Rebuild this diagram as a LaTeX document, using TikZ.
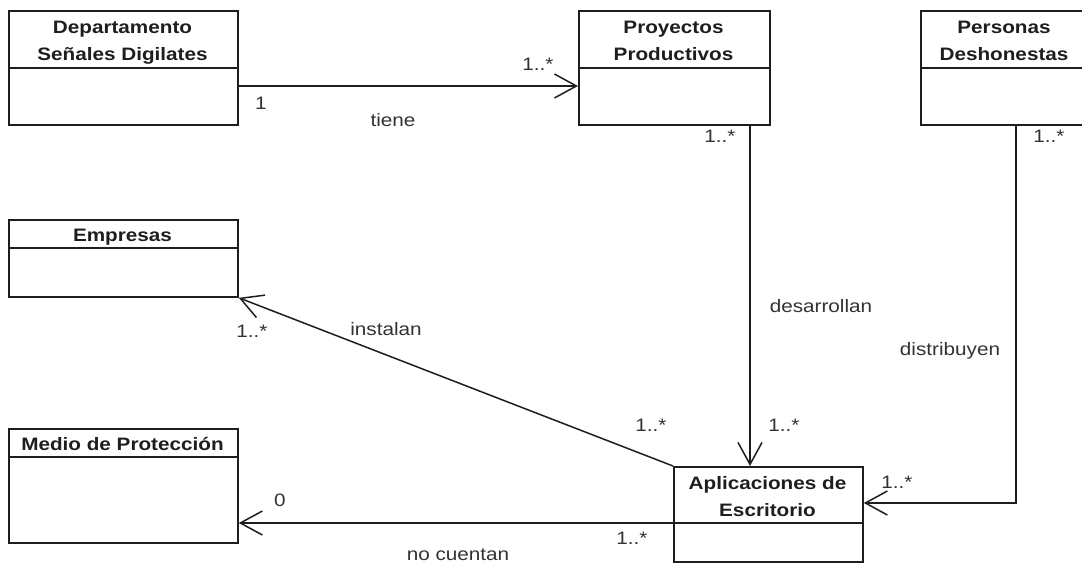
\documentclass[tikz,border=0pt]{standalone}
\usepackage{fontspec}
\setmainfont{Liberation Sans}[FakeStretch=1.15]
\usetikzlibrary{arrows.meta}
\definecolor{ink}{HTML}{1E1E1E}
\definecolor{lbl}{HTML}{333333}
\begin{document}
\begin{tikzpicture}[x=1pt,y=-1pt,
  cls/.style={draw=ink, line width=1.8pt, rectangle, inner sep=0pt, anchor=north west},
  divider/.style={draw=ink, line width=1.5pt},
  title/.style={font=\bfseries\fontsize{18}{27}\selectfont, text=ink, inner sep=0pt, align=center},
  lab/.style={font=\fontsize{18}{22}\selectfont, text=lbl, inner sep=0pt, anchor=base},
  assoc/.style={draw=ink, line width=1.5pt, -{Straight Barb[length=22pt,width=24pt]}},
]
\useasboundingbox (0,0) rectangle (1082,563);
\fill[white] (0,0) rectangle (1082,563);

% class boxes
\node[cls, minimum width=229pt, minimum height=114pt] (dep)  at (8,10) {};
\node[cls, minimum width=191pt, minimum height=114pt] (proy) at (578,10) {};
\node[cls, minimum width=168pt, minimum height=114pt] (pers) at (920,10) {};
\node[cls, minimum width=229pt, minimum height=77pt]  (emp)  at (8,219) {};
\node[cls, minimum width=229pt, minimum height=114pt] (med)  at (8,428) {};
\node[cls, minimum width=189pt, minimum height=95pt]  (apl)  at (673,466) {};

% helper coordinates
\coordinate (ytop) at (0,68);
\coordinate (yemp) at (0,248);
\coordinate (ymed) at (0,457);
\coordinate (yapl) at (0,523);
\coordinate (yt) at (0,86);
\coordinate (xd) at (750,0);
\coordinate (xp) at (1016,0);
\coordinate (yp) at (0,503);

% dividers
\draw[divider] (dep.west |- ytop) -- (dep.east |- ytop);
\draw[divider] (proy.west |- ytop) -- (proy.east |- ytop);
\draw[divider] (pers.west |- ytop) -- (pers.east |- ytop);
\draw[divider] (emp.west |- yemp) -- (emp.east |- yemp);
\draw[divider] (med.west |- ymed) -- (med.east |- ymed);
\draw[divider] (apl.west |- yapl) -- (apl.east |- yapl);

% titles
\node[title, anchor=north] (depT)  at (122.5,21) {Departamento\\Señales Digilates};
\node[title, anchor=north] (proyT) at (673.5,21) {Proyectos\\Productivos};
\node[title, anchor=north] (persT) at (1004,21) {Personas\\Deshonestas};
\node[title, anchor=base]  (empT)  at (122.5,241) {Empresas};
\node[title, anchor=base]  (medT)  at (122.5,450) {Medio de Protección};
\node[title, anchor=north] (aplT)  at (767.5,476) {Aplicaciones de\\Escritorio};

% associations
\draw[assoc] (dep.east |- yt) -- (proy.west |- yt);
\draw[assoc] (proy.south -| xd) -- (apl.north -| xd);
\draw[assoc] (pers.south -| xp) |- (apl.east |- yp);
\draw[assoc] (apl.north west) -- (emp.south east);
\draw[assoc] (apl.west |- yapl) -- (med.east |- yapl);

% labels
\node[lab] (l1)  at (261,109) {1};
\node[lab] (l2)  at (393,126) {tiene};
\node[lab] (l3)  at (538,70) {1..*};
\node[lab] (l4)  at (720,142) {1..*};
\node[lab] (l5)  at (1049,142) {1..*};
\node[lab] (l6)  at (821,312) {desarrollan};
\node[lab] (l7)  at (950,355) {distribuyen};
\node[lab] (l8)  at (784,431) {1..*};
\node[lab] (l9)  at (651,431) {1..*};
\node[lab] (l10) at (897,488) {1..*};
\node[lab] (l11) at (632,544) {1..*};
\node[lab] (l12) at (386,335) {instalan};
\node[lab] (l13) at (252,337) {1..*};
\node[lab] (l14) at (280,506) {0};
\node[lab] (l15) at (458,560) {no cuentan};
\end{tikzpicture}
\end{document}
